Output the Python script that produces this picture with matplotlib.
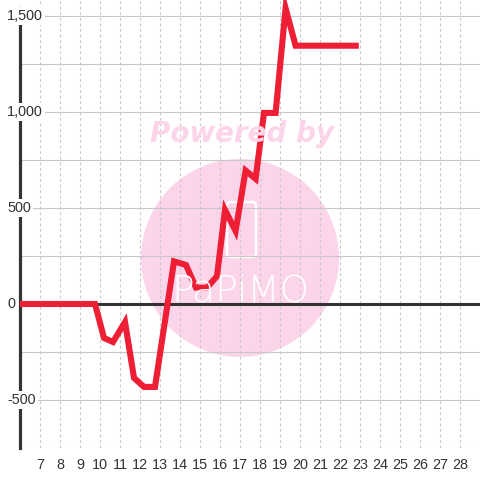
import matplotlib
matplotlib.use('Agg')
import matplotlib.pyplot as plt
import matplotlib.transforms as mtransforms
from matplotlib.patches import Circle, FancyBboxPatch

# ---- data ----
x_vals = [6.0, 9.75, 10.2, 10.65, 11.25, 11.7, 12.2, 12.75, 13.7, 14.3, 14.8,
          15.35, 15.85, 16.25, 16.78, 17.28, 17.78, 18.2, 18.78, 19.28, 19.78, 22.94]
y_vals = [0, 0, -177, -198, -94, -385, -432, -432, 222, 203, 85,
          85, 145, 490, 380, 695, 652, 995, 995, 1540, 1345, 1345]
x_ticks = list(range(7, 29))
x_tick_labels = [str(v) for v in x_ticks]
y_ticks = [1500, 1000, 500, 0, -500]
y_tick_labels = ['1,500', '1,000', '500', '0', '-500']
y_grid = list(range(-750, 1751, 250))

plt.rcParams['font.family'] = ['Liberation Sans', 'DejaVu Sans']

W = 480
fig = plt.figure(figsize=(4.8, 4.8), dpi=100)
fig.patch.set_facecolor('white')
ax = fig.add_axes([20 / W, 32 / W, 460 / W, 448 / W])
ax.set_facecolor('none')

# watermark
wm = '#fcd5ea'
ax.add_patch(Circle((240 / W, 1 - 258 / W), 99 / W, transform=fig.transFigure,
                    facecolor=wm, edgecolor='none', zorder=0.1, clip_on=False))
fig.text(242 / W, 1 - 134 / W, 'Powered by', color=wm, fontsize=20,
         fontweight='bold', style='italic', family='DejaVu Sans',
         ha='center', va='center', zorder=0.1)
fig.text(240 / W, 1 - 291 / W, 'PaPiMO', color='white', fontsize=27,
         family='DejaVu Sans', fontweight='light', ha='center', va='center', zorder=0.2)
ax.add_patch(FancyBboxPatch((227 / W, 1 - 257 / W), 29 / W, 55 / W,
                            boxstyle='round,pad=0,rounding_size=0.008',
                            transform=fig.transFigure, facecolor='none',
                            edgecolor='white', lw=1.8, zorder=0.2, clip_on=False))

# grid
ax.set_axisbelow(True)
ax.set_yticks(y_grid)
ax.set_xticks(x_ticks)
ax.set_xlim(6, 29)
ax.set_ylim(-750, 1583)
ax.yaxis.grid(True, color='#c8c8c8', lw=0.8, ls='-')
ax.xaxis.grid(True, color='#c8c8c8', lw=0.8, ls=(0, (2.5, 2.5)))
ax.tick_params(axis='both', length=0)
ax.set_yticklabels([])
ax.set_xticklabels(x_tick_labels, fontsize=10.4, color='#333333')
ax.tick_params(axis='x', pad=7)

for s in ['top', 'right', 'bottom']:
    ax.spines[s].set_visible(False)
ax.spines['left'].set_color('#333333')
ax.spines['left'].set_linewidth(2.3)
ax.spines['left'].set_bounds(-750, 1540)
ax.spines['left'].set_zorder(2.5)

ax.axhline(0, color='#333333', lw=2.2, zorder=3)

ax.plot(x_vals, y_vals, color='#ee1f35', lw=4.4, zorder=4,
        solid_joinstyle='miter', solid_capstyle='butt', clip_on=False)

lab_tr = mtransforms.blended_transform_factory(fig.transFigure, ax.transData)
for v, lab in zip(y_ticks, y_tick_labels):
    ax.text(7 / W, v, lab, transform=lab_tr,
            ha='left', va='center', fontsize=10.4, color='#333333', zorder=5,
            bbox=dict(facecolor='white', edgecolor='none', pad=1.5), clip_on=False)

fig.savefig('out.png', dpi=100, facecolor='white')
